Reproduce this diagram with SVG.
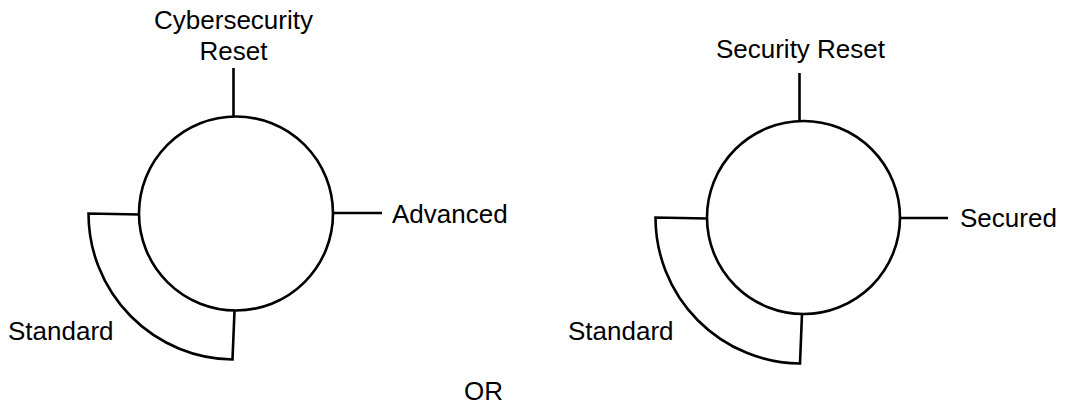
<svg xmlns="http://www.w3.org/2000/svg" width="1067" height="407" viewBox="0 0 1067 407">
<style>
.s{fill:none;stroke:#000;stroke-width:2.6;stroke-linejoin:miter}
.c{fill:#fff;stroke:#000;stroke-width:2.6}
text{font-family:"Liberation Sans",Arial,sans-serif;font-size:26px;fill:#000}
.m{text-anchor:middle}
</style>
<rect width="1067" height="407" fill="#fff"/>
<g id="connectors">
<path class="s" d="M233.5 68 V117"/>
<path class="s" d="M333 213 H382"/>
<path class="s" d="M799.5 73 V121"/>
<path class="s" d="M900 218 H948"/>
</g>
<g id="standard-left">
<path class="s" d="M139.5 214.5 L88.5 213.5 A146 146 0 0 0 232.5 359.5 L234.5 311"/>
<text x="8" y="340">Standard</text>
</g>
<g id="circle-left">
<circle class="c" cx="236" cy="213.5" r="97"/>
</g>
<g id="label-cyber">
<text class="m" x="233.5" y="28.5">Cybersecurity</text>
<text class="m" x="233.5" y="59.5">Reset</text>
</g>
<g id="label-advanced"><text x="392" y="222.5">Advanced</text></g>
<g id="standard-right">
<path class="s" d="M707 218.5 L655.5 217.5 A146 146 0 0 0 800 363.5 L802 314"/>
<text x="568" y="340">Standard</text>
</g>
<g id="circle-right">
<circle class="c" cx="803.5" cy="217.5" r="96.5"/>
</g>
<g id="label-security"><text class="m" x="800.5" y="57.5">Security Reset</text></g>
<g id="label-secured"><text x="960" y="226.5">Secured</text></g>
<g id="label-or"><text x="464" y="400">OR</text></g>
</svg>
